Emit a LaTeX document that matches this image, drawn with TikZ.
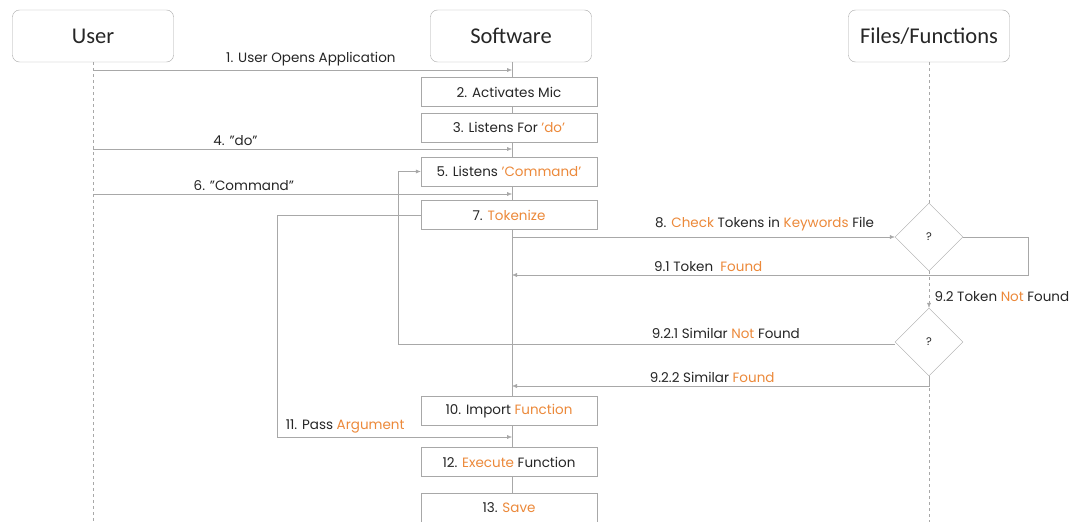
\documentclass[tikz,border=0pt]{standalone}
\usepackage{fontspec}
\setmainfont{Poppins}
\newfontfamily\headfont{Carlito}
\usetikzlibrary{arrows.meta,positioning,calc,shapes.geometric}
\definecolor{accent}{RGB}{236,137,58}
\definecolor{edge}{RGB}{168,168,168}
\definecolor{ink}{RGB}{38,38,38}
\newcommand{\hl}[1]{\textcolor{accent}{#1}}

\begin{document}
\begin{tikzpicture}[x=1pt, y=-1pt,
    actor/.style={draw=edge, rounded corners=7pt, minimum width=161pt, minimum height=52pt, font=\headfont\fontsize{22.5}{26}\selectfont, text=ink},
    stepbox/.style={draw=edge, fill=white, minimum width=176pt, minimum height=29pt, font=\fontsize{13.5}{16}\selectfont, text=ink},
    decide/.style={draw=edge, fill=white, diamond, minimum width=68pt, minimum height=68pt, inner sep=0pt, font=\fontsize{11}{13}\selectfont, text=ink},
    msg/.style={font=\fontsize{13.5}{16}\selectfont, text=ink},
    arrow/.style={-{Latex[length=5pt,width=4pt]}, draw=edge},
    life/.style={draw=edge, dashed}
]
\clip (0,0) rectangle (1088,522);
\fill[white] (0,0) rectangle (1088,522);

% lifeline heads
\node[actor] (user) at (93,36) {User};
\node[actor] (soft) at (511,36) {Software};
\node[actor] (files) at (929,36) {Files/Functions};

% lifelines
\coordinate (uend) at (93,530);
\coordinate (send) at (512,530);
\coordinate (fend) at (929,530);
\draw[life] (user.south) -- (uend);
\draw[edge] (soft.south -| send) -- (send);

% steps on the software line
\node[stepbox] (mic) at (509,92) {2. Activates Mic};
\node[stepbox] (hear) at (509,127.5) {3. Listens For \hl{'do'}};
\node[stepbox] (hearcmd) at (509,171.5) {5. Listens \hl{'Command'}};
\node[stepbox] (token) at (509,215) {7. \hl{Tokenize}};
\node[stepbox] (import) at (509,411) {10. Import \hl{Function}};
\node[stepbox] (exec) at (509,462) {12. \hl{Execute} Function};
\node[stepbox] (save) at (509,508) {13. \hl{Save}};

% decisions
\node[decide] (chk) at (929,237) {?};
\node[decide] (sim) at (929,342) {?};
\draw[life] (files.south) -- (chk.north);
\draw[life] (sim.south) -- (fend);

% points on the lifelines
\coordinate (u1) at (93,70);   \coordinate (s1) at (512,70);
\coordinate (u4) at (93,149);  \coordinate (s4) at (512,149);
\coordinate (u6) at (93,194);  \coordinate (s6) at (512,194);
\coordinate (s8) at (512,237);
\coordinate (s91) at (512,275);
\coordinate (s922) at (512,386);
\coordinate (s11) at (512,437);

% messages
\draw[arrow] (u1) -- node[msg, above=0pt, pos=0.52] {1. User Opens Application} (s1);
\draw[arrow] (u4) -- node[msg, above=0pt, pos=0.34] {4. "do"} (s4);
\draw[arrow] (u6) -- node[msg, above=0pt, pos=0.36] {6. "Command"} (s6);
\draw[arrow] (s8) -- node[msg, above=2pt, pos=0.66] {8. \hl{Check} Tokens in \hl{Keywords} File} (chk.west);
\draw[arrow] (chk.east) -- ++(65,0) |- node[msg, above=0pt, pos=0.81] {9.1 Token \ \hl{Found}} (s91);
\draw[arrow, dashed] (chk.south) -- node[msg, right=2pt, pos=0.7] {9.2 Token \hl{Not} Found} (sim.north);
\draw[arrow] ([yshift=-2pt]sim.west) -| node[msg, above=2pt, pos=0.17] {9.2.1 Similar \hl{Not} Found} (398,171.5) -- (hearcmd.west);
\draw[arrow] (sim.south) |- node[msg, above=0pt, pos=0.76] {9.2.2 Similar \hl{Found}} (s922);
\draw[arrow] (token.west) -| (277,437) -- node[msg, above=0pt, pos=0.29] {11. Pass \hl{Argument}} (s11);
\end{tikzpicture}
\end{document}
